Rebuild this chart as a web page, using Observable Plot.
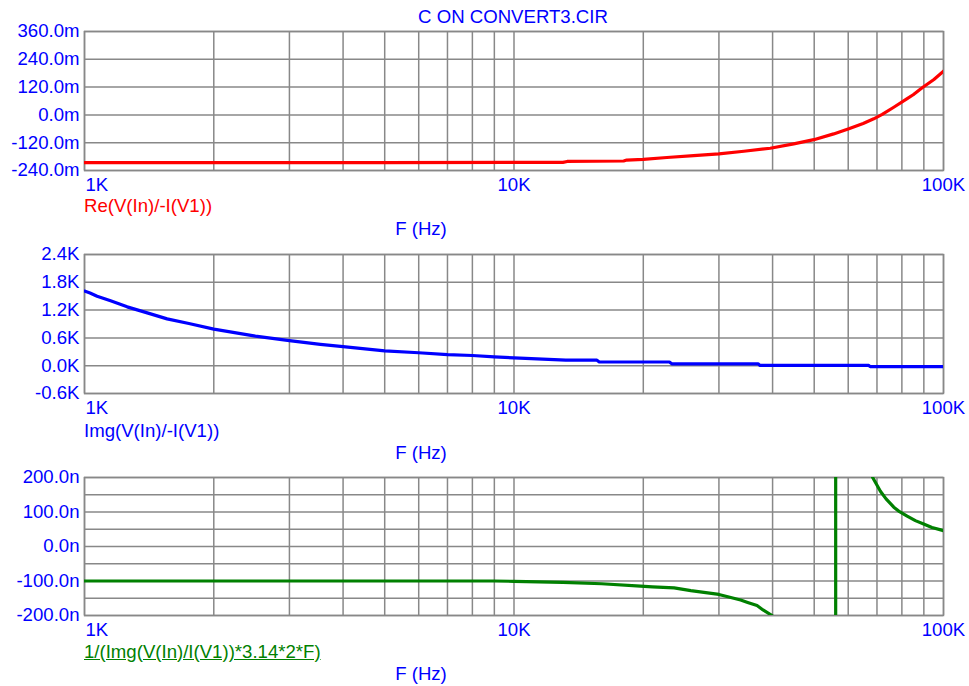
<!DOCTYPE html>
<html>
<head>
<meta charset="utf-8">
<script src="https://cdn.jsdelivr.net/npm/d3@7"></script>
<script src="https://cdn.jsdelivr.net/npm/@observablehq/plot@0.6"></script>
<style>
  html, body { margin: 0; padding: 0; background: #fff; }
  #wrap { position: relative; width: 969px; height: 686px; overflow: hidden; font-family: "Liberation Sans", Arial, sans-serif; }
  .t { position: absolute; font-size: 18.6px; line-height: 18px; white-space: nowrap; }
  .panel { position: absolute; left: 0; }
</style>
</head>
<body>
<div id="wrap"></div>
<script>
// ---------- data ----------
const title = "C ON CONVERT3.CIR";
const xTickValues = [1000, 10000, 100000];
const xTickLabels = ["1K", "10K", "100K"];
const xGridValues = [1000,2000,3000,4000,5000,6000,7000,8000,9000,
                     10000,20000,30000,40000,50000,60000,70000,80000,90000,100000];
const xAxisTitle = "F (Hz)";

// Panel 1: Re(V(In)/-I(V1)) in milli-ohms
const reLabel = "Re(V(In)/-I(V1))";
const reF = [1000, 5000, 10000, 13000, 13300, 18000, 18300, 20000, 22700, 26200, 30000, 34300, 39500, 44800, 49900, 55500, 60200, 65000, 68800, 72000, 76600, 82300, 85000, 89200, 95000, 100000];
const reV = [-206, -206, -205, -205, -201, -199, -195, -192, -184, -176, -168, -157, -144, -125, -107, -82, -60, -37, -17, 2, 33, 70, 87, 117, 153, 189];
const reTicks = [-240, -120, 0, 120, 240, 360];

// Panel 2: Img(V(In)/-I(V1)) in kilo-ohms
const imLabel = "Img(V(In)/-I(V1))";
const imF = [1000, 1030, 1070, 1150, 1257, 1400, 1557, 1750, 2000, 2500, 3000, 3540, 4000, 5000, 6000, 7000, 8000, 9000, 10000, 13200, 15600, 15800, 23000, 23300, 37000, 37400, 67000, 67500, 100000];
const imV = [1.61, 1.57, 1.50, 1.40, 1.27, 1.14, 1.01, 0.91, 0.79, 0.64, 0.54, 0.46, 0.41, 0.32, 0.28, 0.24, 0.22, 0.19, 0.17, 0.12, 0.12, 0.08, 0.08, 0.04, 0.04, 0.005, 0.005, -0.02, -0.02];
const imTicks = [-0.6, 0.0, 0.6, 1.2, 1.8, 2.4];

// Panel 3: 1/(Img(V(In)/I(V1))*3.14*2*F) in nano-farads (null = break)
const cLabel = "1/(Img(V(In)/I(V1))*3.14*2*F)";
const cF = [1000, 5000, 9000, 10000, 13000, 16000, 19700, 21000, 23600, 25800, 30000, 33700, 35000, 36800, 38000, 39900,
            null, 56100, 56100, null,
            68400, 69500, 71300, 73500, 76600, 79000, 82300, 86000, 89900, 94000, 100000];
const cV = [-100, -100, -100, -101, -104, -108, -115, -117, -120, -128, -139, -155, -162, -171, -184, -200,
            null, -200, 200, null,
            200, 185, 160, 138, 114, 101, 88, 75, 65, 55, 46];
const cTicks = [-200, -100, 0, 100, 200];
const cGrid = [-200, -150, -100, -50, 0, 50, 100, 150, 200];

// ---------- drawing ----------
const BLUE = "#0000ff", GRID = "#888888";
const wrap = document.getElementById("wrap");

function addText(txt, left, top, color, extra = {}) {
  const d = document.createElement("div");
  d.className = "t";
  d.textContent = txt;
  d.style.left = left + "px";
  d.style.top = top + "px";
  d.style.color = color;
  Object.assign(d.style, extra);
  wrap.appendChild(d);
  return d;
}

function panel({F, V, color, domain, ticks, grid, unit, top, height, marginTop, marginBottom}) {
  const data = F.map((f, i) => ({f, v: V[i]}));
  const fmtTick = (d) => d.toFixed(1) + unit;
  const chart = Plot.plot({
    width: 969, height, marginLeft: 84, marginRight: 26, marginTop, marginBottom,
    style: {fontFamily: '"Liberation Sans", Arial, sans-serif', fontSize: "18.6px", background: "transparent", overflow: "visible"},
    x: {type: "log", domain: [1000, 100000], label: null, axis: null},
    y: {domain, label: null, axis: null},
    marks: [
      Plot.gridX(xGridValues, {stroke: GRID, strokeOpacity: 1, strokeWidth: 1.5}),
      Plot.gridY(grid, {stroke: GRID, strokeOpacity: 1, strokeWidth: 1.5}),
      Plot.frame({stroke: GRID, strokeWidth: 1.5}),
      Plot.line(data, {x: "f", y: "v", stroke: color, strokeWidth: 3.2, clip: true, z: null}),
      Plot.axisY(ticks, {tickSize: 0, tickPadding: 5, tickFormat: fmtTick, fill: BLUE, label: null}),
      Plot.axisX([xTickValues[0]], {tickSize: 0, tickPadding: 7, textAnchor: "start", dx: 1,
        tickFormat: () => xTickLabels[0], fill: BLUE, label: null}),
      Plot.axisX(xTickValues.slice(1), {tickSize: 0, tickPadding: 7,
        tickFormat: (d) => xTickLabels[xTickValues.indexOf(d)], fill: BLUE, label: null})
    ]
  });
  chart.classList.add("panel");
  chart.style.top = top + "px";
  wrap.appendChild(chart);
}

addText(title, 513, 8, BLUE, {transform: "translateX(-50%)"});

panel({F: reF, V: reV, color: "#ff0000", domain: [-240, 360], ticks: reTicks, grid: reTicks, unit: "m",
       top: 0, height: 240, marginTop: 31, marginBottom: 70});
addText(reLabel, 84, 197, "#ff0000");
addText(xAxisTitle, 421, 219.5, BLUE, {transform: "translateX(-50%)"});

panel({F: imF, V: imV, color: "#0000ff", domain: [-0.6, 2.4], ticks: imTicks, grid: imTicks, unit: "K",
       top: 240, height: 220, marginTop: 14, marginBottom: 67});
addText(imLabel, 84, 422, BLUE);
addText(xAxisTitle, 421, 444, BLUE, {transform: "translateX(-50%)"});

panel({F: cF, V: cV, color: "#008000", domain: [-200, 200], ticks: cTicks, grid: cGrid, unit: "n",
       top: 460, height: 226, marginTop: 17, marginBottom: 71});
addText(cLabel, 84, 642.5, "#008000", {textDecoration: "underline"});
addText(xAxisTitle, 421, 665, BLUE, {transform: "translateX(-50%)"});
</script>
</body>
</html>
